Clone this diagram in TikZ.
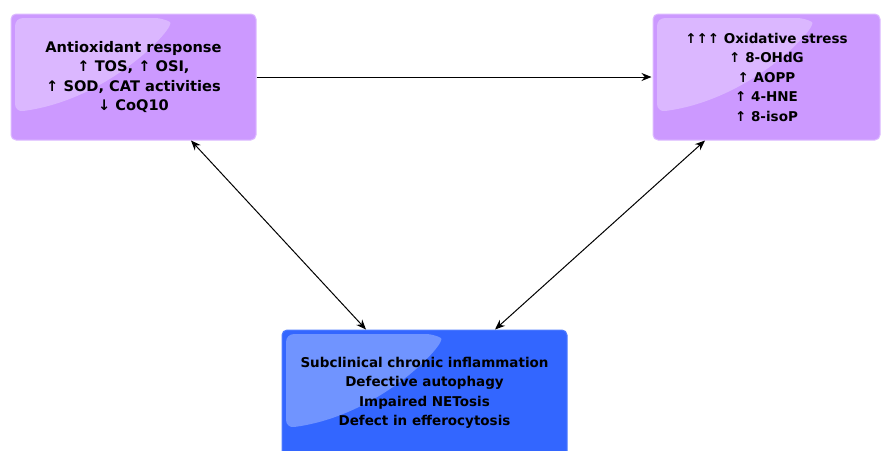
\documentclass[tikz,border=0pt]{standalone}
\usepackage{fontspec}
\setmainfont{DejaVu Sans}
\usetikzlibrary{arrows.meta}

\definecolor{lilac}{HTML}{CC99FF}
\definecolor{lilacline}{HTML}{DDBBFF}
\definecolor{royal}{HTML}{3366FF}
\definecolor{royalline}{HTML}{4F7CFF}

\tikzset{
  panel/.style={rounded corners=5pt, align=center, font=\bfseries\fontsize{13.5}{19.5}\selectfont,
    minimum width=245pt, minimum height=126pt, inner sep=0pt, line width=1pt,
    path picture={\fill[white, fill opacity=.3, rounded corners=8pt]
      ([shift={(4pt,-4pt)}]path picture bounding box.north west) -- ++(148pt,0pt)
      .. controls +(14pt,-8pt) and +(95pt,12pt) .. ++(-148pt,-94pt) -- cycle;}},
  lilacbox/.style={panel, fill=lilac, draw=lilacline},
  bluebox/.style={panel, fill=royal, draw=royalline},
  link/.style={line width=1pt, -{Stealth[length=10pt,width=8pt]}},
  twoway/.style={line width=1pt, {Stealth[length=10pt,width=8pt]}-{Stealth[length=10pt,width=8pt]}}
}

\begin{document}
\begin{tikzpicture}[x=1pt,y=-1pt]
  \useasboundingbox (0,0) rectangle (885,450);

  % the three boxes
  \node[lilacbox, font=\bfseries\fontsize{14.6}{19.5}\selectfont] (antiox) at (133.5,77) {Antioxidant response\\ ↑ TOS, ↑ OSI,\\ ↑ SOD, CAT activities\\ ↓ CoQ10};
  \node[lilacbox, minimum width=227pt] (oxstress) at (766.5,77) {↑↑↑ Oxidative stress\\ ↑ 8-OHdG\\ ↑ AOPP\\ ↑ 4-HNE\\ ↑ 8-isoP};
  \node[bluebox, minimum width=285pt] (inflam) at (424.5,393) {Subclinical chronic inflammation\\ Defective autophagy\\ Impaired NETosis\\ Defect in efferocytosis};

  % connections
  \draw[link] (antiox.east) -- ([xshift=-1pt]oxstress.west);
  \draw[twoway] ([xshift=57.5pt]antiox.south) -- ([xshift=-58.5pt]inflam.north);
  \draw[twoway] ([xshift=-61.5pt]oxstress.south) -- ([xshift=70.5pt]inflam.north);

\end{tikzpicture}
\end{document}
